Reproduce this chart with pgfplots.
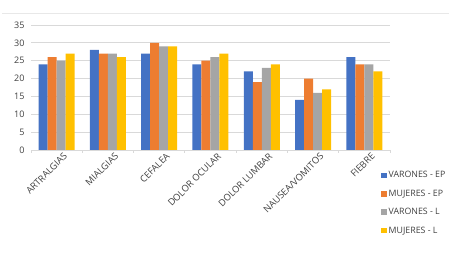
\documentclass[border=0pt]{standalone}
\usepackage{pgfplots}
\pgfplotsset{compat=1.18}
\usepackage{fontspec}
\setmainfont{Open Sans}
\definecolor{cblue}{HTML}{4472C4}
\definecolor{corange}{HTML}{ED7D31}
\definecolor{cgray}{HTML}{A5A5A5}
\definecolor{cyellow}{HTML}{FFC000}
\definecolor{gridc}{HTML}{D9D9D9}
\definecolor{txt}{HTML}{404040}
\begin{document}
\begin{tikzpicture}[x=1pt,y=1pt]
\path (0,0) rectangle (451,256);
\draw[gridc!60, line width=0.6pt] (2,243) -- (449,243);
\begin{axis}[
  at={(31pt,106pt)}, anchor=south west,
  width=359pt, height=125pt, scale only axis,
  ybar=0pt, bar width=9pt,
  xmin=-0.5, xmax=6.5, ymin=0, ymax=35,
  ytick={0,5,...,35},
  xtick={0,...,6},
  xticklabels={ARTRALGIAS,MIALGIAS,CEFALEA,DOLOR OCULAR,DOLOR LUMBAR,NAUSEA/VOMITOS,FIEBRE},
  x tick label style={rotate=45, anchor=north east, font=\fontsize{9.3}{10}\selectfont, text=txt, xshift=4pt, yshift=-5pt, inner sep=1pt},
  y tick label style={font=\fontsize{9}{10}\selectfont, text=txt, xshift=-3pt},
  /pgf/number format/assume math mode=true,
  major tick length=0pt,
  ymajorgrids, grid style={gridc, line width=0.8pt},
  axis x line*=bottom, axis y line*=left,
  x axis line style={gridc, line width=0.8pt, -},
  y axis line style={draw=none},
  extra x ticks={-0.5,0.5,...,6.5},
  extra x tick labels={},
  extra x tick style={major tick length=3pt, tick align=outside, tick style={gridc, line width=0.8pt}, grid=none},
  legend style={at={(0.975,-0.155)}, anchor=north west, draw=none, fill=none,
    font=\fontsize{8.8}{9}\selectfont, text=txt, row sep=6.5pt,
    inner sep=0pt},
  legend cell align=left,
  legend image code/.code={\fill[#1] (0pt,-2.8pt) rectangle (5.5pt,2.8pt);},
]
\addplot[fill=cblue, draw=none] coordinates {(0,24) (1,28) (2,27) (3,24) (4,22) (5,14) (6,26)};
\addplot[fill=corange, draw=none] coordinates {(0,26) (1,27) (2,30) (3,25) (4,19) (5,20) (6,24)};
\addplot[fill=cgray, draw=none] coordinates {(0,25) (1,27) (2,29) (3,26) (4,23) (5,16) (6,24)};
\addplot[fill=cyellow, draw=none] coordinates {(0,27) (1,26) (2,29) (3,27) (4,24) (5,17) (6,22)};
\legend{VARONES - EP, MUJERES - EP, VARONES - L, MUJERES - L}
\end{axis}
\end{tikzpicture}
\end{document}
